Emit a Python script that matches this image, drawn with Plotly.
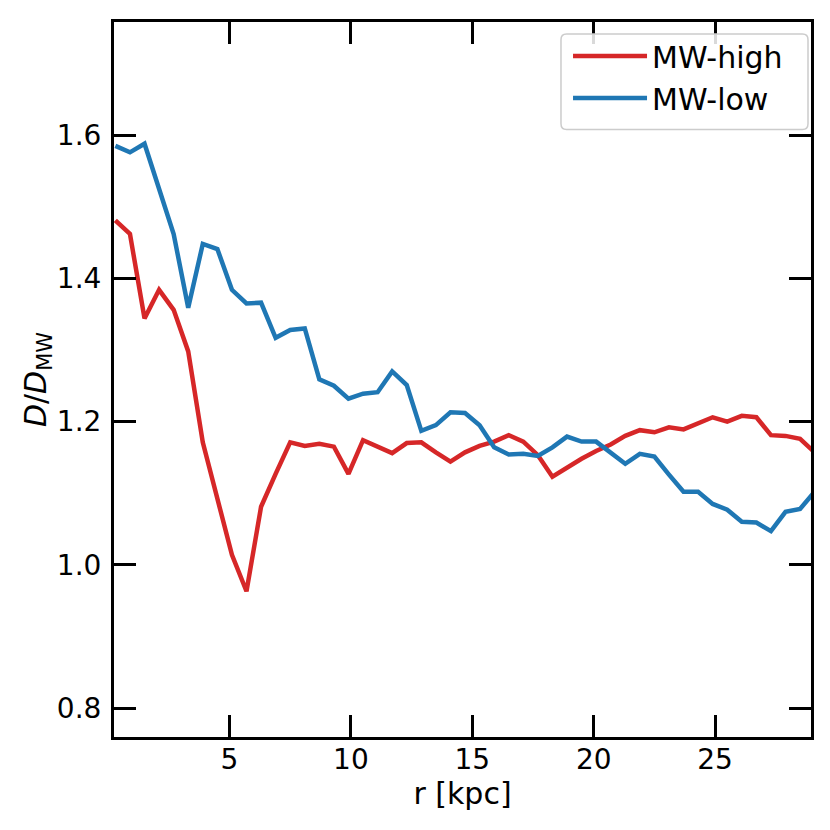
import plotly.graph_objects as go

r_kpc = [0.3, 0.9, 1.5, 2.1, 2.7, 3.3, 3.9, 4.5, 5.1, 5.7,
         6.3, 6.9, 7.5, 8.1, 8.7, 9.3, 9.9, 10.5, 11.1, 11.7,
         12.3, 12.9, 13.5, 14.1, 14.7, 15.3, 15.9, 16.5, 17.1, 17.7,
         18.3, 18.9, 19.5, 20.1, 20.7, 21.3, 21.9, 22.5, 23.1, 23.7,
         24.3, 24.9, 25.5, 26.1, 26.7, 27.3, 27.9, 28.5, 29.1]

mw_high = [1.481, 1.462, 1.344, 1.384, 1.356, 1.298, 1.171, 1.090, 1.014, 0.963,
           1.081, 1.127, 1.171, 1.166, 1.169, 1.165, 1.127, 1.174, 1.165, 1.156,
           1.170, 1.171, 1.157, 1.144, 1.157, 1.166, 1.172, 1.181, 1.172, 1.153,
           1.123, 1.136, 1.148, 1.159, 1.168, 1.180, 1.188, 1.185, 1.192, 1.189,
           1.198, 1.206, 1.200, 1.208, 1.206, 1.181, 1.180, 1.176, 1.157]

mw_low = [1.585, 1.576, 1.588, 1.525, 1.462, 1.359, 1.448, 1.441, 1.384, 1.365,
          1.366, 1.317, 1.328, 1.330, 1.259, 1.250, 1.232, 1.239, 1.241, 1.270,
          1.251, 1.187, 1.195, 1.213, 1.212, 1.195, 1.164, 1.154, 1.155, 1.152,
          1.164, 1.179, 1.172, 1.172, 1.157, 1.141, 1.155, 1.151, 1.126, 1.102,
          1.102, 1.085, 1.077, 1.060, 1.059, 1.047, 1.074, 1.078, 1.102]

x_ticks = [5, 10, 15, 20, 25]
y_ticks = [0.8, 1.0, 1.2, 1.4, 1.6]
y_tick_labels = ["0.8", "1.0", "1.2", "1.4", "1.6"]

FONT = "DejaVu Sans"

fig = go.Figure()
fig.add_trace(go.Scatter(x=r_kpc, y=mw_high, mode="lines", name="MW-high",
                         line=dict(color="#d62728", width=4.5)))
fig.add_trace(go.Scatter(x=r_kpc, y=mw_low, mode="lines", name="MW-low",
                         line=dict(color="#1f77b4", width=4.5)))

axis_common = dict(
    showline=True, linecolor="black", linewidth=3, mirror="ticks",
    ticks="inside", ticklen=22, tickwidth=3, tickcolor="black",
    showgrid=False, zeroline=False,
    tickfont=dict(family=FONT, size=28, color="black"),
)

# legend frame (rounded box, drawn above the lines, below the legend entries)
lx0, lx1, ly0, ly1, rr = 0.6413, 0.9957, 0.8496, 0.9833, 0.008
legend_frame = (f"M{lx0+rr},{ly1} L{lx1-rr},{ly1} Q{lx1},{ly1} {lx1},{ly1-rr} "
                f"L{lx1},{ly0+rr} Q{lx1},{ly0} {lx1-rr},{ly0} "
                f"L{lx0+rr},{ly0} Q{lx0},{ly0} {lx0},{ly0+rr} "
                f"L{lx0},{ly1-rr} Q{lx0},{ly1} {lx0+rr},{ly1} Z")

fig.update_layout(
    width=822, height=822,
    margin=dict(l=106, r=19, t=11, b=93),
    paper_bgcolor="white", plot_bgcolor="white",
    font=dict(family=FONT, size=28, color="black"),
    xaxis=dict(range=[0.243, 28.95], tickvals=x_ticks,
               title=dict(text="r [kpc]", font=dict(family=FONT, size=30), standoff=9),
               ticklabelstandoff=-5, **axis_common),
    yaxis=dict(range=[0.7595, 1.758], tickvals=y_ticks, ticktext=y_tick_labels,
               title=dict(text="<i>D</i>/<i>D</i><sub>MW</sub>", font=dict(family=FONT, size=30), standoff=2),
               ticklabelstandoff=4, **axis_common),
    shapes=[dict(type="path", path=legend_frame, xref="paper", yref="paper",
                 fillcolor="rgba(255,255,255,0.85)", line=dict(color="#cccccc", width=1.5),
                 layer="above")],
    legend=dict(x=0.6514, y=0.9889, xanchor="left", yanchor="top",
                bgcolor="rgba(0,0,0,0)", borderwidth=0,
                font=dict(family=FONT, size=30, color="black"),
                itemwidth=74),
    showlegend=True,
)

fig.write_html("out.html")
